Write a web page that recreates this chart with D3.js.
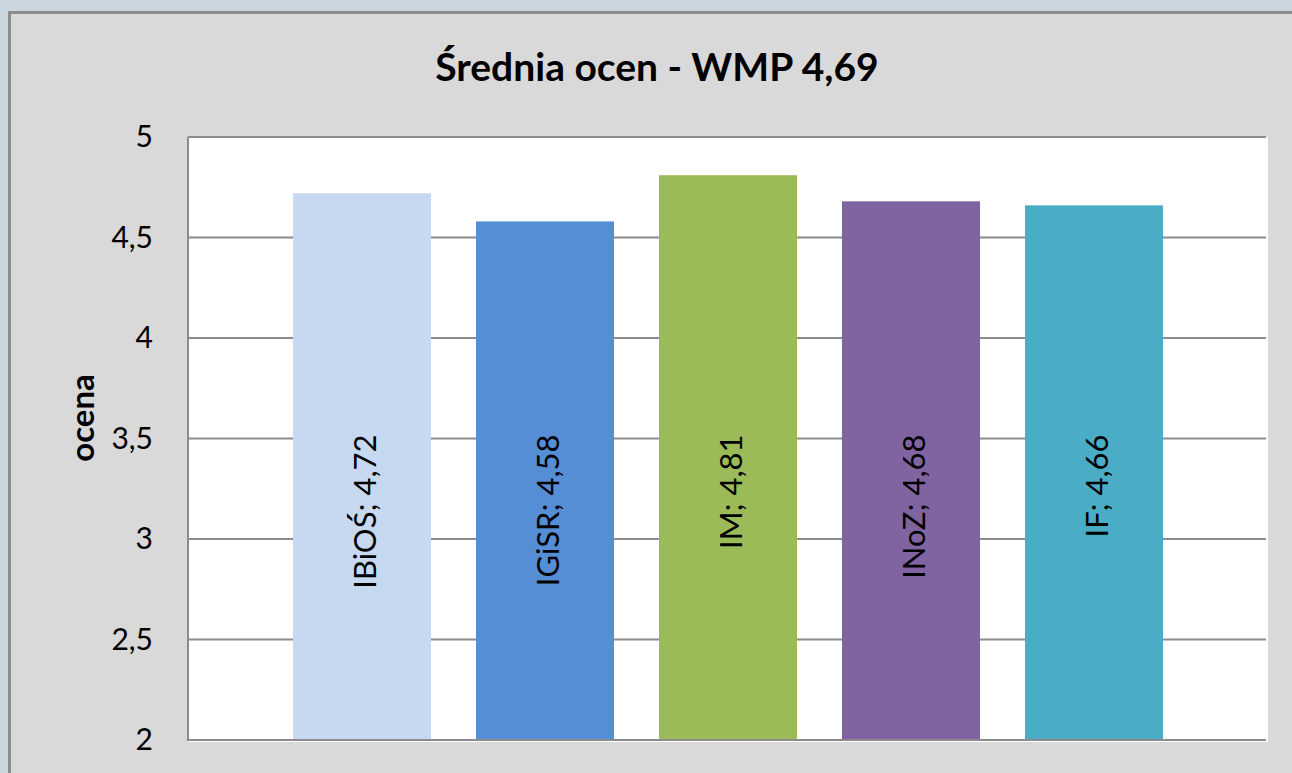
<!DOCTYPE html>
<html>
<head>
<meta charset="utf-8">
<script src="https://cdn.jsdelivr.net/npm/d3@7"></script>
<style>
  body { margin: 0; background: #cad6dd; }
  svg { display: block; }
  text { font-family: Lato, "Open Sans", sans-serif; fill: #000; }
</style>
</head>
<body>
<div class="chart-container"></div>
<script>
// chart data
const categories = ['IBiOŚ', 'IGiSR', 'IM', 'INoZ', 'IF'];
const values = [4.72, 4.58, 4.81, 4.68, 4.66];
const barColors = ['#c6d9f1', '#558ed5', '#9bbb59', '#8064a2', '#4bacc6'];
const yTicks = [2, 2.5, 3, 3.5, 4, 4.5, 5];
const title = 'Średnia ocen - WMP 4,69';
const yTitle = 'ocena';

const width = 1292, height = 773;
const fmt = v => String(v).replace('.', ',');

const svg = d3.select('.chart-container').append('svg')
  .attr('width', width)
  .attr('height', height);

// textured outer background (flat approximation)
svg.append('rect')
  .attr('width', width).attr('height', height)
  .attr('fill', '#cad6dd');

// chart area with gray border
svg.append('rect')
  .attr('x', 9.5).attr('y', 12.5)
  .attr('width', width + 20).attr('height', height + 20)
  .attr('fill', '#d9d9d9')
  .attr('stroke', '#8c8c8c')
  .attr('stroke-width', 3);

// plot area
const plot = {left: 188, top: 137, right: 1266, bottom: 740};

const y = d3.scaleLinear()
  .domain([2, 5])
  .range([plot.bottom, plot.top]);

const x = d3.scaleBand()
  .domain(categories)
  .range([270.5, 1185.5])
  .paddingInner(0.246)
  .paddingOuter(0.123);

svg.append('rect')
  .attr('x', plot.left).attr('y', plot.top)
  .attr('width', plot.right - plot.left + 2)
  .attr('height', plot.bottom - plot.top + 2)
  .attr('fill', '#fff');

// gridlines
svg.append('g')
  .selectAll('line')
  .data(yTicks.filter(d => d > 2))
  .join('line')
  .attr('x1', plot.left).attr('x2', plot.right)
  .attr('y1', d => y(d)).attr('y2', d => y(d))
  .attr('stroke', '#8c8c8c')
  .attr('stroke-width', 2);

// bars
svg.append('g')
  .selectAll('rect')
  .data(categories)
  .join('rect')
  .attr('x', d => x(d))
  .attr('width', x.bandwidth())
  .attr('y', (d, i) => y(values[i]))
  .attr('height', (d, i) => y(2) - y(values[i]))
  .attr('fill', (d, i) => barColors[i]);

// axes lines
svg.append('line')
  .attr('x1', plot.left).attr('x2', plot.left)
  .attr('y1', plot.top).attr('y2', plot.bottom + 1)
  .attr('stroke', '#8c8c8c').attr('stroke-width', 2);
svg.append('line')
  .attr('x1', plot.left).attr('x2', plot.right)
  .attr('y1', plot.bottom).attr('y2', plot.bottom)
  .attr('stroke', '#8c8c8c').attr('stroke-width', 2);

// y tick labels
const yAxis = d3.axisLeft(y)
  .tickValues(yTicks)
  .tickFormat(fmt)
  .tickSize(0)
  .tickPadding(35);
const yg = svg.append('g')
  .attr('transform', `translate(${plot.left},0)`)
  .call(yAxis);
yg.select('.domain').remove();
yg.selectAll('text')
  .attr('font-family', 'Lato, sans-serif')
  .attr('font-size', 30)
  .attr('fill', '#000');

// bar labels (rotated)
const labelTop = y(3.52);
svg.append('g')
  .selectAll('text')
  .data(categories)
  .join('text')
  .attr('transform', d => `translate(${x(d) + x.bandwidth() / 2},${labelTop}) rotate(-90)`)
  .attr('text-anchor', 'end')
  .attr('dy', '0.45em')
  .attr('font-size', 31)
  .text((d, i) => `${d}; ${fmt(values[i])}`);

// title
svg.append('text')
  .attr('x', 657).attr('y', 81)
  .attr('text-anchor', 'middle')
  .attr('font-size', 39)
  .attr('font-weight', 'bold')
  .text(title);

// y axis title
svg.append('text')
  .attr('transform', 'translate(94,418) rotate(-90)')
  .attr('text-anchor', 'middle')
  .attr('font-size', 33)
  .attr('font-weight', 'bold')
  .text(yTitle);
</script>
</body>
</html>
